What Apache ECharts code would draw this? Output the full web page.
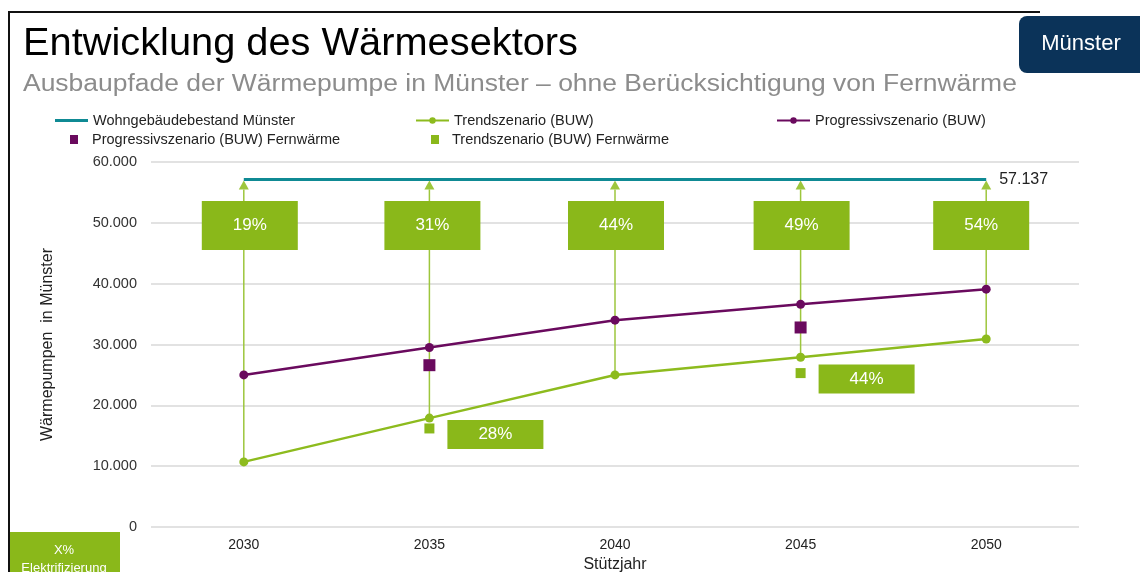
<!DOCTYPE html>
<html>
<head>
<meta charset="utf-8">
<script src="https://cdn.jsdelivr.net/npm/echarts@6/dist/echarts.min.js"></script>
<style>
html,body{margin:0;padding:0;background:#fff;overflow:hidden;}
#chart{width:1140px;height:572px;}
</style>
</head>
<body>
<div id="chart"></div>
<script>
// ---- data ----
const years = ['2030', '2035', '2040', '2045', '2050'];
const totalStock = [57137, 57137, 57137, 57137, 57137];
const trendScenario = [10700, 17900, 25000, 27900, 30900];
const progScenario = [25000, 29500, 34000, 36600, 39100];
const progDistrictHeat = [null, 26600, null, 32800, null];
const trendDistrictHeat = [null, 16200, null, 25300, null];
const electrificationShares = ['19%', '31%', '44%', '49%', '54%'];
const districtHeatShares = [null, '28%', null, '44%', null];
const yTicks = [0, 10000, 20000, 30000, 40000, 50000, 60000];

const names = {
  total: 'Wohngebäudebestand Münster',
  trend: 'Trendszenario (BUW)',
  prog: 'Progressivszenario (BUW)',
  progFw: 'Progressivszenario (BUW) Fernwärme',
  trendFw: 'Trendszenario (BUW) Fernwärme'
};

// ---- styles ----
const FONT = "Arial, 'Liberation Sans', sans-serif";
const GREEN = '#8ab81a';
const GREEN_LINE = '#8dbb1e';
const ARROW_GREEN = '#9dc63c';
const PURPLE = '#6a0a5e';
const TEAL = '#0f8a94';
const TOP_BOX_SHIFT = [6, 3, 1, 1, -5];

const fmt = v => String(v).replace(/\B(?=(\d{3})+(?!\d))/g, '.');

// arrows from trend point up to the building stock line
const arrowSource = years.map((y, i) => [i, trendScenario[i], totalStock[i]]);

const topBoxes = years.map((y, i) => ({
  name: electrificationShares[i],
  coord: [i, totalStock[i]],
  symbolOffset: [TOP_BOX_SHIFT[i], 46]
}));

const lowBoxes = [];
years.forEach((y, i) => {
  if (districtHeatShares[i] != null) {
    lowBoxes.push({
      name: districtHeatShares[i],
      coord: [i, trendDistrictHeat[i]],
      symbolOffset: [66, 6],
      symbolSize: [96, 29]
    });
  }
});

const chart = echarts.init(document.getElementById('chart'), null, { renderer: 'canvas', width: 1140, height: 572 });

const legendText = { fontFamily: FONT, fontSize: 14.5, color: '#222' };

function legendItem(name, left, top, extra) {
  return Object.assign({
    data: [name],
    left: left,
    top: top,
    padding: 0,
    itemWidth: 33,
    itemHeight: 8,
    itemGap: 0,
    selectedMode: false,
    textStyle: legendText
  }, extra || {});
}

function renderArrow(params, api) {
  const x = api.value(0);
  const p0 = api.coord([x, api.value(1)]);
  const p1 = api.coord([x, api.value(2)]);
  const tipY = p1[1] + 1;
  const baseY = tipY + 9;
  return {
    type: 'group',
    children: [
      {
        type: 'line',
        shape: { x1: p0[0], y1: p0[1], x2: p1[0], y2: baseY },
        style: { stroke: ARROW_GREEN, lineWidth: 1.5 }
      },
      {
        type: 'polygon',
        shape: { points: [[p1[0], tipY], [p1[0] - 5, baseY], [p1[0] + 5, baseY]] },
        style: { fill: ARROW_GREEN }
      }
    ]
  };
}

const option = {
  animation: false,
  backgroundColor: '#fff',
  textStyle: { fontFamily: FONT },
  legend: [
    legendItem(names.total, 55, 113, { icon: 'rect', itemHeight: 3 }),
    legendItem(names.trend, 415, 113),
    legendItem(names.prog, 776, 113),
    legendItem(names.progFw, 70, 132, { icon: 'rect', itemWidth: 8, itemHeight: 9,
      textStyle: Object.assign({}, legendText, { padding: [0, 0, 0, 9] }) }),
    legendItem(names.trendFw, 431, 132, { icon: 'rect', itemWidth: 8, itemHeight: 9,
      textStyle: Object.assign({}, legendText, { padding: [0, 0, 0, 8] }) })
  ],
  grid: { left: 151, top: 162, width: 928, height: 365, containLabel: false, outerBoundsMode: 'none' },
  xAxis: {
    type: 'category',
    data: years,
    boundaryGap: true,
    axisLine: { show: false },
    axisTick: { show: false },
    axisLabel: { color: '#222', fontSize: 14, fontFamily: FONT, margin: 11 },
    name: 'Stützjahr',
    nameLocation: 'middle',
    nameGap: 27,
    nameTextStyle: { color: '#222', fontSize: 16, fontFamily: FONT }
  },
  yAxis: {
    type: 'value',
    min: yTicks[0],
    max: yTicks[yTicks.length - 1],
    interval: yTicks[1] - yTicks[0],
    axisLine: { show: false },
    axisTick: { show: false },
    splitLine: { lineStyle: { color: '#d9d9d9', width: 1.5 } },
    axisLabel: { color: '#333', fontSize: 14.5, fontFamily: FONT, margin: 14, formatter: fmt },
    name: 'Wärmepumpen  in Münster',
    nameLocation: 'middle',
    nameGap: 95,
    nameTextStyle: { color: '#222', fontSize: 16, fontFamily: FONT }
  },
  series: [
    {
      name: 'arrows',
      type: 'custom',
      data: arrowSource,
      renderItem: renderArrow,
      silent: true,
      z: 2
    },
    {
      name: names.total,
      type: 'line',
      data: totalStock,
      symbol: 'none',
      z: 10,
      lineStyle: { color: TEAL, width: 3 },
      itemStyle: { color: TEAL },
      endLabel: {
        show: true,
        formatter: p => fmt(p.value),
        color: '#222', fontSize: 16, fontFamily: FONT, distance: 13
      },
      markPoint: {
        silent: true,
        symbol: 'rect',
        symbolSize: [96, 49],
        itemStyle: { color: GREEN },
        label: { show: true, position: 'inside', formatter: '{b}', color: '#fff', fontSize: 17, fontFamily: FONT },
        data: topBoxes.concat(lowBoxes)
      }
    },
    {
      name: names.trend,
      type: 'line',
      data: trendScenario,
      symbol: 'circle',
      symbolSize: 9,
      z: 3,
      lineStyle: { color: GREEN_LINE, width: 2.5 },
      itemStyle: { color: GREEN_LINE }
    },
    {
      name: names.prog,
      type: 'line',
      data: progScenario,
      symbol: 'circle',
      symbolSize: 9,
      z: 4,
      lineStyle: { color: PURPLE, width: 2.5 },
      itemStyle: { color: PURPLE }
    },
    {
      name: names.progFw,
      type: 'scatter',
      data: progDistrictHeat,
      symbol: 'rect',
      symbolSize: 12,
      z: 5,
      itemStyle: { color: PURPLE, opacity: 1 }
    },
    {
      name: names.trendFw,
      type: 'scatter',
      data: trendDistrictHeat,
      symbol: 'rect',
      symbolSize: 10,
      z: 5,
      itemStyle: { color: GREEN, opacity: 1 }
    }
  ],
  graphic: [
    {
      type: 'polyline',
      shape: { points: [[9, 580], [9, 12], [1040, 12]] },
      style: { stroke: '#111', lineWidth: 2, fill: null },
      z: 0
    },
    {
      type: 'text',
      x: 23, y: 26,
      scaleX: 1.047,
      style: { text: 'Entwicklung des Wärmesektors', fill: '#000', fontSize: 38, fontFamily: FONT, verticalAlign: 'top' },
      z: 5
    },
    {
      type: 'text',
      x: 23, y: 73,
      scaleX: 1.15,
      style: { text: 'Ausbaupfade der Wärmepumpe in Münster – ohne Berücksichtigung von Fernwärme', fill: '#8c8c8c', fontSize: 23, fontFamily: FONT, verticalAlign: 'top' },
      z: 5
    },
    {
      type: 'rect',
      shape: { x: 1019, y: 16, width: 130, height: 57, r: 8 },
      style: { fill: '#0b3359' },
      z: 20
    },
    {
      type: 'text',
      x: 1081, y: 44,
      style: { text: 'Münster', fill: '#fff', fontSize: 22, fontFamily: FONT, align: 'center', verticalAlign: 'middle' },
      z: 21
    },
    {
      type: 'rect',
      shape: { x: 10, y: 532, width: 110, height: 45 },
      style: { fill: GREEN },
      z: 20
    },
    {
      type: 'text',
      x: 64, y: 541,
      style: { text: 'X%\nElektrifizierung', fill: '#fff', fontSize: 13, lineHeight: 18, fontFamily: FONT, align: 'center', verticalAlign: 'top' },
      z: 21
    }
  ]
};

chart.setOption(option);
</script>
</body>
</html>
